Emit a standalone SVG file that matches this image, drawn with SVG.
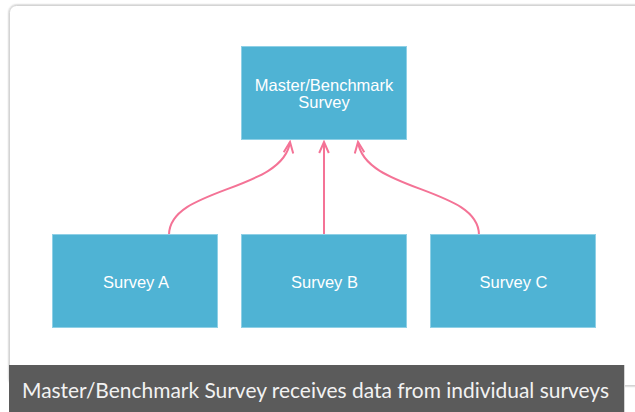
<svg xmlns="http://www.w3.org/2000/svg" width="635" height="412" viewBox="0 0 635 412">
<defs>
<style>
.box{fill:#4fb3d4;stroke:#8fd0e6;stroke-width:1}
.lbl{font-family:"Liberation Sans",Arial,sans-serif;font-size:16.5px;fill:#ffffff;text-anchor:middle}
.conn{fill:none;stroke:#f47396;stroke-width:2}
</style>
<marker id="ah" viewBox="0 0 14 12" refX="12" refY="6" markerWidth="14" markerHeight="12" markerUnits="userSpaceOnUse" orient="auto">
<path d="M1,1.2 L12,6 L1,10.8" fill="none" stroke="#f47396" stroke-width="2"/>
</marker>
<filter id="sh" x="-5%" y="-5%" width="110%" height="110%">
<feGaussianBlur in="SourceAlpha" stdDeviation="1.2"/>
<feComponentTransfer><feFuncA type="linear" slope="0.35"/></feComponentTransfer>
<feMerge><feMergeNode/><feMergeNode in="SourceGraphic"/></feMerge>
</filter>
</defs>
<rect x="0" y="0" width="635" height="412" fill="#ffffff"/>
<g id="card">
<rect x="9.5" y="5.5" width="640" height="380" rx="7" fill="#ffffff" stroke="#d4d4d4" stroke-width="1" filter="url(#sh)"/>
</g>
<g id="connectors">
<path class="conn" d="M169,235 C169,187 283,192 290,142" marker-end="url(#ah)"/>
<path class="conn" d="M324,235 L324,142" marker-end="url(#ah)"/>
<path class="conn" d="M479,235 C479,187 365,192 358,142" marker-end="url(#ah)"/>
</g>
<g id="master">
<rect class="box" x="241.5" y="46.5" width="165" height="93"/>
<text class="lbl" x="324" y="91">Master/Benchmark</text>
<text class="lbl" x="324" y="108">Survey</text>
</g>
<g id="surveyA">
<rect class="box" x="52.5" y="234.5" width="165" height="93"/>
<text class="lbl" x="136" y="288">Survey A</text>
</g>
<g id="surveyB">
<rect class="box" x="241.5" y="234.5" width="165" height="93"/>
<text class="lbl" x="324.5" y="288">Survey B</text>
</g>
<g id="surveyC">
<rect class="box" x="430.5" y="234.5" width="165" height="93"/>
<text class="lbl" x="513.5" y="288">Survey C</text>
</g>
<g id="caption">
<rect x="9" y="365" width="615" height="47" fill="#5b5b5b"/>
<line x1="624.5" y1="365" x2="624.5" y2="412" stroke="#d4d4d4" stroke-width="1"/>
<text x="22" y="398" font-family="Lato,'Source Sans Pro','Noto Sans',sans-serif" font-size="21" fill="#f2f2f2" textLength="587" lengthAdjust="spacingAndGlyphs">Master/Benchmark Survey receives data from individual surveys</text>
</g>
</svg>
